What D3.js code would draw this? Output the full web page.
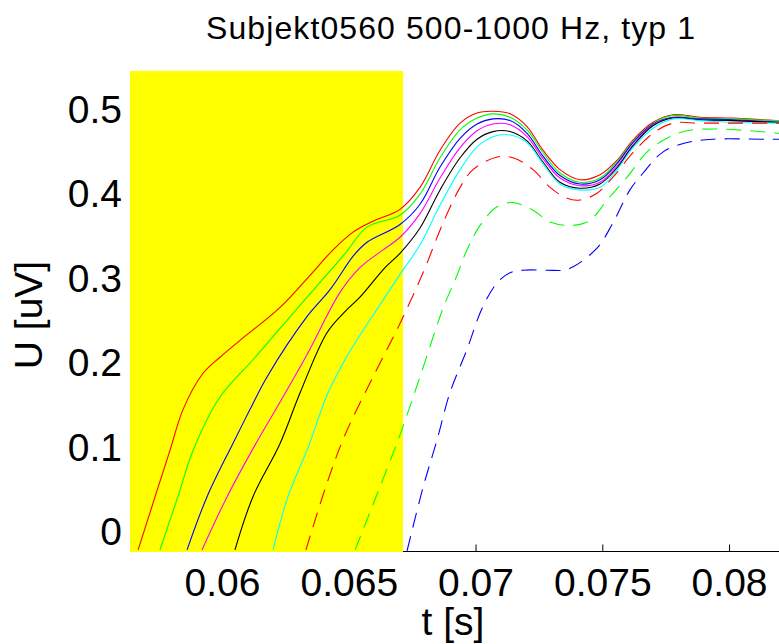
<!DOCTYPE html>
<html>
<head>
<meta charset="utf-8">
<script src="https://cdn.jsdelivr.net/npm/d3@7"></script>
<style>
  html, body { margin: 0; padding: 0; background: #ffffff; }
  svg { display: block; }
  text { font-family: "Liberation Sans", Arial, Helvetica, sans-serif; fill: #000; }
</style>
</head>
<body>
<svg id="chart" width="779" height="644"></svg>
<script>
// ---------------- data ----------------
const titleText = "Subjekt0560 500-1000 Hz, typ 1";
const xLabelText = "t [s]";
const yLabelText = "U [uV]";

const xTicks = [0.06, 0.065, 0.07, 0.075, 0.08];
const xTickLabels = ["0.06", "0.065", "0.07", "0.075", "0.08"];
const yTicks = [0, 0.1, 0.2, 0.3, 0.4, 0.5];
const yTickLabels = ["0", "0.1", "0.2", "0.3", "0.4", "0.5"];

const xLimits = [0.05637, 0.08197];
const yLimits = [-0.0233, 0.5447];
const shadedInterval = [0.05637, 0.06714];

// [t (s), U (uV)]
const redSolid = [[0.05669,-0.022],[0.05736,0.041],[0.05795,0.096],[0.05846,0.144],[0.05925,0.187],[0.05992,0.206],[0.06071,0.226],[0.06229,0.265],[0.06347,0.303],[0.06438,0.333],[0.06517,0.354],[0.06596,0.367],[0.06702,0.381],[0.06781,0.407],[0.06860,0.451],[0.06939,0.483],[0.07006,0.495],[0.07069,0.497],[0.07136,0.494],[0.07203,0.479],[0.07266,0.451],[0.07333,0.428],[0.07412,0.416],[0.07491,0.422],[0.07558,0.439],[0.07621,0.463],[0.07700,0.484],[0.07779,0.493],[0.07886,0.490],[0.08016,0.489],[0.08197,0.486],[0.0825,0.486]];
const greenSolid = [[0.05755,-0.022],[0.05826,0.041],[0.05886,0.096],[0.05992,0.159],[0.06122,0.203],[0.06280,0.258],[0.06481,0.327],[0.06572,0.360],[0.06702,0.374],[0.06781,0.399],[0.06860,0.442],[0.06939,0.475],[0.07006,0.489],[0.07069,0.494],[0.07136,0.490],[0.07203,0.475],[0.07266,0.448],[0.07333,0.424],[0.07412,0.413],[0.07491,0.418],[0.07558,0.437],[0.07621,0.461],[0.07700,0.483],[0.07779,0.492],[0.07886,0.489],[0.08016,0.488],[0.08197,0.486],[0.0825,0.486]];
const blueSolid = [[0.05862,-0.022],[0.05941,0.041],[0.06043,0.104],[0.06110,0.144],[0.06178,0.183],[0.06335,0.254],[0.06426,0.286],[0.06521,0.327],[0.06572,0.342],[0.06702,0.363],[0.06781,0.387],[0.06860,0.431],[0.06939,0.465],[0.07006,0.482],[0.07069,0.488],[0.07136,0.486],[0.07203,0.471],[0.07266,0.444],[0.07333,0.421],[0.07412,0.411],[0.07491,0.416],[0.07558,0.435],[0.07621,0.460],[0.07700,0.482],[0.07779,0.490],[0.07886,0.488],[0.08016,0.487],[0.08197,0.484],[0.0825,0.484]];
const magentaSolid = [[0.05921,-0.022],[0.06020,0.041],[0.06130,0.102],[0.06229,0.153],[0.06335,0.209],[0.06466,0.283],[0.06544,0.312],[0.06635,0.333],[0.06702,0.348],[0.06781,0.376],[0.06860,0.418],[0.06939,0.454],[0.07006,0.474],[0.07069,0.482],[0.07136,0.481],[0.07203,0.467],[0.07266,0.441],[0.07333,0.418],[0.07412,0.409],[0.07491,0.413],[0.07558,0.432],[0.07621,0.457],[0.07700,0.481],[0.07779,0.489],[0.07886,0.487],[0.08016,0.486],[0.08197,0.484],[0.0825,0.484]];
const blackSolid = [[0.06051,-0.022],[0.06122,0.041],[0.06229,0.104],[0.06308,0.164],[0.06414,0.235],[0.06485,0.260],[0.06544,0.277],[0.06643,0.312],[0.06702,0.329],[0.06781,0.359],[0.06860,0.404],[0.06939,0.442],[0.07006,0.464],[0.07069,0.473],[0.07136,0.473],[0.07203,0.462],[0.07266,0.437],[0.07333,0.413],[0.07412,0.406],[0.07491,0.411],[0.07558,0.430],[0.07621,0.456],[0.07700,0.480],[0.07779,0.489],[0.07886,0.487],[0.08016,0.486],[0.08197,0.484],[0.0825,0.484]];
const cyanSolid = [[0.06201,-0.022],[0.06260,0.041],[0.06343,0.102],[0.06414,0.161],[0.06485,0.203],[0.06544,0.232],[0.06623,0.268],[0.06702,0.304],[0.06781,0.339],[0.06860,0.386],[0.06939,0.428],[0.07006,0.455],[0.07069,0.467],[0.07136,0.469],[0.07203,0.460],[0.07266,0.435],[0.07333,0.411],[0.07412,0.404],[0.07491,0.407],[0.07558,0.428],[0.07621,0.454],[0.07700,0.477],[0.07779,0.488],[0.07886,0.486],[0.08016,0.484],[0.08197,0.483],[0.0825,0.483]];
const redDashed = [[0.06331,-0.022],[0.06414,0.057],[0.06485,0.114],[0.06596,0.183],[0.06702,0.246],[0.06793,0.306],[0.06872,0.365],[0.06939,0.407],[0.06990,0.428],[0.07085,0.443],[0.07148,0.442],[0.07227,0.428],[0.07294,0.407],[0.07361,0.394],[0.07412,0.392],[0.07479,0.400],[0.07542,0.419],[0.07621,0.448],[0.07700,0.471],[0.07779,0.483],[0.07886,0.483],[0.08016,0.483],[0.08197,0.483],[0.0825,0.483]];
const greenDashed = [[0.06525,-0.022],[0.06584,0.023],[0.06643,0.068],[0.06702,0.114],[0.06781,0.183],[0.06872,0.264],[0.06927,0.303],[0.06966,0.333],[0.07018,0.362],[0.07085,0.384],[0.07148,0.389],[0.07227,0.380],[0.07294,0.366],[0.07385,0.362],[0.07452,0.368],[0.07519,0.392],[0.07598,0.419],[0.07677,0.449],[0.07755,0.465],[0.07834,0.474],[0.07953,0.476],[0.08083,0.474],[0.08197,0.471],[0.0825,0.471]];
const blueDashed = [[0.06730,-0.023],[0.06793,0.052],[0.06848,0.108],[0.06899,0.164],[0.06966,0.215],[0.07026,0.264],[0.07085,0.294],[0.07136,0.306],[0.07187,0.309],[0.07282,0.309],[0.07345,0.309],[0.07385,0.313],[0.07479,0.335],[0.07542,0.365],[0.07609,0.404],[0.07661,0.424],[0.07740,0.449],[0.07834,0.460],[0.07937,0.464],[0.08122,0.464],[0.08197,0.464],[0.0825,0.464]];

const series = [
  { values: redSolid,     color: "#ff0000", dashed: false },
  { values: greenSolid,   color: "#00ff00", dashed: false },
  { values: blueSolid,    color: "#0000ff", dashed: false },
  { values: magentaSolid, color: "#ff00ff", dashed: false },
  { values: blackSolid,   color: "#000000", dashed: false },
  { values: cyanSolid,    color: "#00ffff", dashed: false },
  { values: redDashed,    color: "#ff0000", dashed: true },
  { values: greenDashed,  color: "#00ff00", dashed: true },
  { values: blueDashed,   color: "#0000ff", dashed: true }
];

// ---------------- layout ----------------
const svg = d3.select("#chart");
const W = 779, H = 644;
const plot = { left: 130, right: 779, top: 71, bottom: 551 };

svg.append("rect").attr("width", W).attr("height", H).attr("fill", "#ffffff");

const x = d3.scaleLinear().domain(xLimits).range([plot.left, plot.right]);
const y = d3.scaleLinear().domain(yLimits).range([plot.bottom, plot.top]);

svg.append("defs").append("clipPath").attr("id", "clip")
  .append("rect")
  .attr("x", plot.left).attr("y", plot.top)
  .attr("width", W - plot.left + 20).attr("height", plot.bottom - plot.top);

// axes
const xAxis = d3.axisBottom(x)
  .tickValues(xTicks)
  .tickFormat((d, i) => xTickLabels[i])
  .tickSizeInner(-7)
  .tickSizeOuter(0)
  .tickPadding(17);

const gx = svg.append("g")
  .attr("transform", `translate(0,${plot.bottom + 0.5})`)
  .call(xAxis);
gx.select(".domain").attr("stroke", "#000").attr("stroke-width", 1)
  .attr("d", `M${plot.left},0H${W + 20}`);
gx.selectAll(".tick line").attr("stroke", "#000");
gx.selectAll(".tick text")
  .attr("font-size", 39)
  .attr("font-family", "'Liberation Sans', Arial, sans-serif")
  .attr("fill", "#000");

const yAxis = d3.axisLeft(y)
  .tickValues(yTicks)
  .tickFormat((d, i) => yTickLabels[i])
  .tickSizeInner(-7)
  .tickSizeOuter(0)
  .tickPadding(8);

const gy = svg.append("g")
  .attr("transform", `translate(${plot.left},0)`)
  .call(yAxis);
gy.select(".domain").attr("stroke", "#000");
gy.selectAll(".tick line").attr("stroke", "#000");
gy.selectAll(".tick text")
  .attr("font-size", 39)
  .attr("dy", "0.35em")
  .attr("font-family", "'Liberation Sans', Arial, sans-serif")
  .attr("fill", "#000");

// shaded interval (yellow patch over axes)
svg.append("rect")
  .attr("x", x(shadedInterval[0]))
  .attr("y", plot.top)
  .attr("width", x(shadedInterval[1]) - x(shadedInterval[0]))
  .attr("height", plot.bottom - plot.top + 1)
  .attr("fill", "#ffff00");

// lines
const line = d3.line()
  .x(d => x(d[0]))
  .y(d => y(d[1]))
  .curve(d3.curveCatmullRom.alpha(0.5));

const gLines = svg.append("g").attr("clip-path", "url(#clip)");
gLines.selectAll("path")
  .data(series)
  .join("path")
  .attr("d", d => line(d.values))
  .attr("fill", "none")
  .attr("stroke", d => d.color)
  .attr("stroke-width", 1.1)
  .attr("stroke-dasharray", d => d.dashed ? "15,9" : null);

// title & labels
svg.append("text")
  .attr("x", 206).attr("y", 39)
  .attr("font-size", 32)
  .attr("textLength", 489)
  .attr("lengthAdjust", "spacing")
  .text(titleText);

svg.append("text")
  .attr("x", 453).attr("y", 635)
  .attr("text-anchor", "middle")
  .attr("font-size", 39)
  .text(xLabelText);

svg.append("text")
  .attr("transform", "translate(42,315) rotate(-90)")
  .attr("text-anchor", "middle")
  .attr("font-size", 39)
  .text(yLabelText);
</script>
</body>
</html>
